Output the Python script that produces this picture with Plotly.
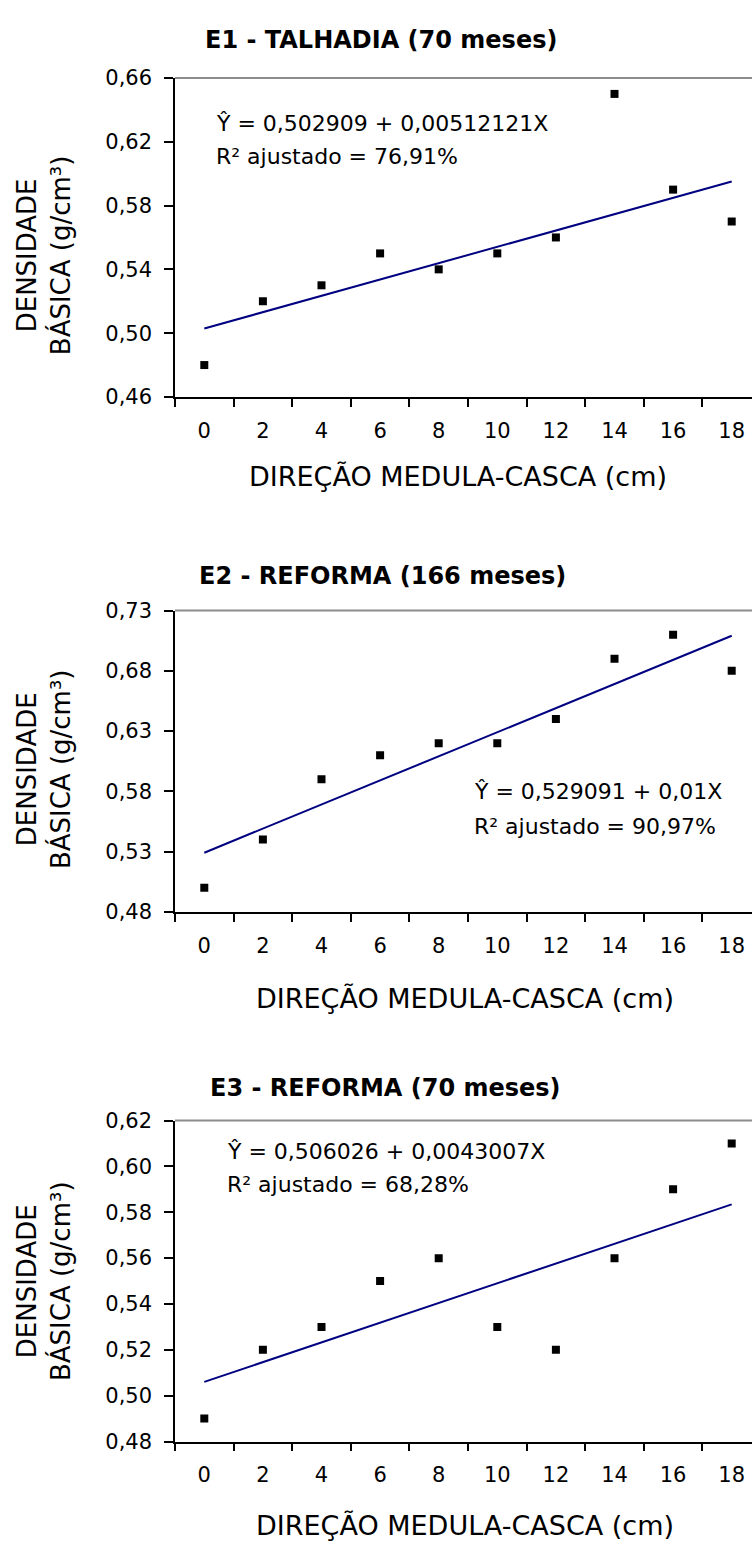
import plotly.graph_objects as go

# Figure size in pixels
W, H = 752, 1551

# Pith-to-bark position (cm) — category labels on the x axis
dist_cm = ["0", "2", "4", "6", "8", "10", "12", "14", "16", "18"]

# Basic density (g/cm3) measured at each position
e1_density = [0.48, 0.52, 0.53, 0.55, 0.54, 0.55, 0.56, 0.65, 0.59, 0.57]
e2_density = [0.50, 0.54, 0.59, 0.61, 0.62, 0.62, 0.64, 0.69, 0.71, 0.68]
e3_density = [0.49, 0.52, 0.53, 0.55, 0.56, 0.53, 0.52, 0.56, 0.59, 0.61]

# Fitted regressions: intercept, slope (per cm)
e1_fit = [0.502909, 0.00512121]
e2_fit = [0.529091, 0.01]
e3_fit = [0.506026, 0.0043007]

# Panel titles and regression text
titles = ["E1 - TALHADIA (70 meses)", "E2 - REFORMA (166 meses)", "E3 - REFORMA (70 meses)"]
eq_texts = ["Ŷ = 0,502909 + 0,00512121X", "Ŷ = 0,529091 + 0,01X", "Ŷ = 0,506026 + 0,0043007X"]
r2_texts = ["R² ajustado = 76,91%", "R² ajustado = 90,97%", "R² ajustado = 68,28%"]

# Y axis scales
y_ranges = [[0.46, 0.66], [0.48, 0.73], [0.48, 0.62]]
y_dticks = [0.04, 0.05, 0.02]

densities = [e1_density, e2_density, e3_density]
fits = [e1_fit, e2_fit, e3_fit]

# Layout geometry (pixels from top-left)
PLOT_LEFT = 175
CAT_W = 58.6
panel_top = [67, 608, 1126]
panel_bot = [391, 914, 1452]
title_y = [28, 573, 1093]
title_x = [381, 382, 385]
eq_x = [214, 472, 225]
eq_y = [113, 792, 1157]
r2_y = [147, 827, 1191]
ytitle_y = [247, 769, 1289]
xtitle_x = [458, 465, 465]
xtitle_y = [472, 1002, 1537]

FONT = "DejaVu Sans"


def fx(px):
    return px / W


def fy(py):
    return 1 - py / H


fig = go.Figure()
annotations = []
shapes = []
layout_axes = {}

x_end = -0.5 + (W - PLOT_LEFT) / CAT_W

for i in range(3):
    sfx = "" if i == 0 else str(i + 1)
    xa, ya = "x" + sfx, "y" + sfx
    b0, b1 = fits[i]
    fit_vals = [b0 + b1 * float(c) for c in dist_cm]

    fig.add_trace(go.Scatter(
        x=dist_cm, y=fit_vals, mode="lines",
        line=dict(color="#000080", width=2),
        xaxis=xa, yaxis=ya, showlegend=False, hoverinfo="skip",
    ))
    fig.add_trace(go.Scatter(
        x=dist_cm, y=densities[i], mode="markers",
        marker=dict(symbol="square", size=8, color="black", line=dict(width=0)),
        xaxis=xa, yaxis=ya, showlegend=False,
    ))

    layout_axes["xaxis" + sfx] = dict(
        type="category", domain=[fx(PLOT_LEFT), 1.0], anchor=ya,
        range=[-0.5, x_end], tickson="boundaries",
        ticks="outside", ticklen=8, tickwidth=1.5, tickcolor="black",
        showline=True, linecolor="black", linewidth=1.5,
        showgrid=False, zeroline=False, ticklabelstandoff=14,
        tickfont=dict(family=FONT, size=21, color="black"),
    )
    layout_axes["yaxis" + sfx] = dict(
        domain=[fy(panel_bot[i]), fy(panel_top[i])], anchor=xa,
        range=y_ranges[i], dtick=y_dticks[i], tick0=y_ranges[i][0],
        tickformat=".2f", ticks="outside", ticklen=9, tickwidth=1.5,
        tickcolor="black", showline=True, linecolor="black", linewidth=1.5,
        showgrid=False, zeroline=False, ticklabelstandoff=8,
        tickfont=dict(family=FONT, size=21, color="black"),
    )

    # grey plot-area border along the top
    shapes.append(dict(
        type="line", xref=xa + " domain", yref=ya + " domain",
        x0=0, x1=1, y0=1, y1=1, line=dict(color="#8c8c8c", width=2),
    ))

    annotations += [
        dict(text="<b>" + titles[i] + "</b>", x=fx(title_x[i]), y=fy(title_y[i]),
             xref="paper", yref="paper", xanchor="center", yanchor="middle",
             showarrow=False, font=dict(family=FONT, size=24, color="black")),
        dict(text=eq_texts[i], x=fx(eq_x[i]), y=fy(eq_y[i]),
             xref="paper", yref="paper", xanchor="left", yanchor="middle",
             showarrow=False, font=dict(family=FONT, size=22, color="black")),
        dict(text=r2_texts[i], x=fx(eq_x[i]), y=fy(r2_y[i]),
             xref="paper", yref="paper", xanchor="left", yanchor="middle",
             showarrow=False, font=dict(family=FONT, size=22, color="black")),
        dict(text="DENSIDADE<br>BÁSICA (g/cm³)", x=fx(44), y=fy(ytitle_y[i]),
             xref="paper", yref="paper", xanchor="center", yanchor="middle",
             textangle=-90, showarrow=False,
             font=dict(family=FONT, size=26, color="black")),
        dict(text="DIREÇÃO MEDULA-CASCA (cm)", x=fx(xtitle_x[i]), y=fy(xtitle_y[i]),
             xref="paper", yref="paper", xanchor="center", yanchor="middle",
             showarrow=False, font=dict(family=FONT, size=27, color="black")),
    ]

fig.update_layout(
    width=W, height=H, autosize=False,
    margin=dict(l=0, r=0, t=0, b=0),
    paper_bgcolor="white", plot_bgcolor="white",
    separators=",.",
    annotations=annotations, shapes=shapes,
    **layout_axes,
)

fig.write_html("out.html")
